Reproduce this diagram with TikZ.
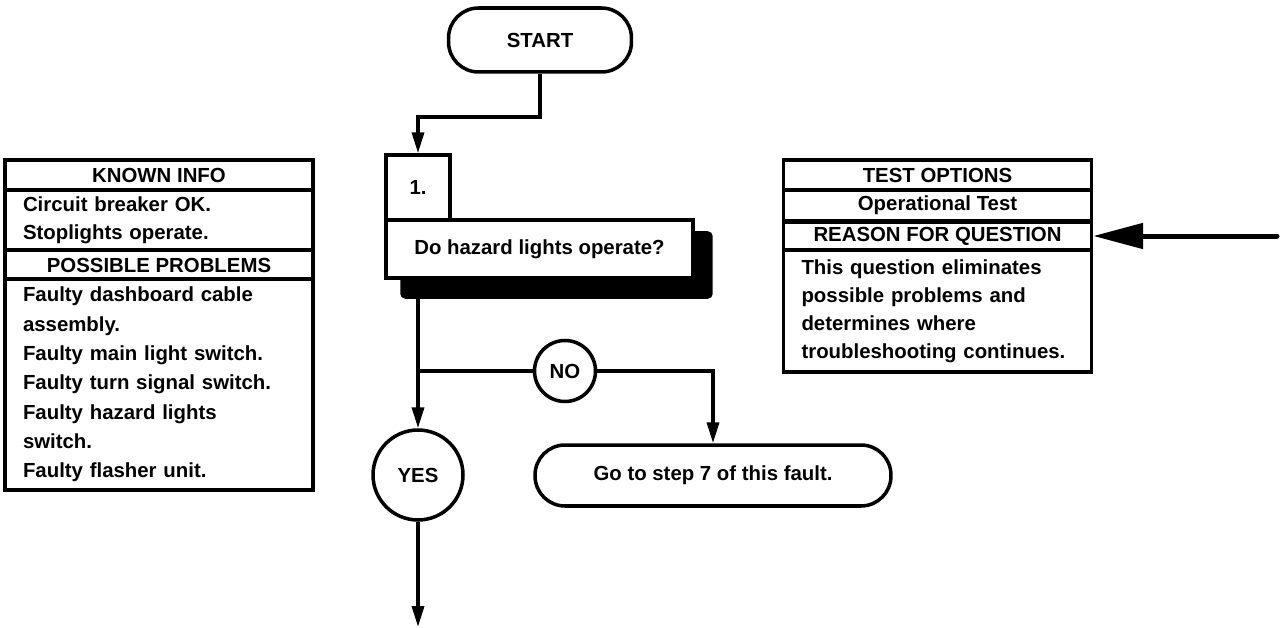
\documentclass[tikz,border=0pt]{standalone}
\usepackage{fontspec}
\setmainfont{Liberation Sans}
\usetikzlibrary{arrows.meta,positioning}

\begin{document}
\begin{tikzpicture}[
    x=0.02cm, y=-0.02cm,
    line width=2pt,
    txt/.style={font=\fontsize{11.6}{16}\selectfont\bfseries},
    pill/.style={txt, draw, rounded corners=0.6cm, inner sep=0pt},
    circ/.style={txt, draw, circle, inner sep=0pt},
    head/.style={txt, draw, minimum width=6.16cm, inner sep=0pt, align=center},
    body/.style={draw, align=left, inner xsep=0.36cm, inner ysep=0pt, text width=5.44cm, font=\fontsize{11.6}{16}\selectfont\bfseries},
    arr/.style={-{Triangle[length=0.42cm, width=0.24cm]}},
    bigarr/.style={-{Triangle[length=1cm, width=0.5cm]}, line width=0.1cm, line cap=round}
]
\useasboundingbox (0,0) rectangle (1287,628);

% flow
\node[pill, minimum width=3.66cm, minimum height=1.28cm] (start) at (540,40) {START};
\node[draw, fill=black, rounded corners=2pt, minimum width=6.18cm, minimum height=1.28cm] (qshadow) at (556.5,265) {};
\node[draw, fill=white, txt, minimum width=6.14cm, minimum height=1.16cm, inner sep=0pt] (quest) at (539.5,249) {Do hazard lights operate?};
\node[draw, fill=white, txt, minimum width=1.28cm, minimum height=1.3cm, inner sep=0pt] (num) at (418,187.5) {1.};
\node[circ, minimum size=1.22cm] (no) at (565,371) {NO};
\node[circ, minimum size=1.8cm] (yes) at (418,475) {YES};
\node[pill, minimum width=7.12cm, minimum height=1.22cm] (goto) at (713,475.5) {Go to step 7 of this fault.};
\coordinate (split) at (418,371);
\coordinate (yesend) at (418,627);

% known info panel
\node[head, minimum height=0.6cm] (known) at (159,175) {KNOWN INFO};
\node[body, minimum height=1.2cm] (knowntxt) at (159,220) {Circuit breaker OK.\\Stoplights operate.};
\node[head, minimum height=0.58cm] (probs) at (159,265) {POSSIBLE PROBLEMS};
\node[body, minimum height=4.22cm, font=\fontsize{11.6}{16.7}\selectfont\bfseries] (probstxt) at (159,384.5) {Faulty dashboard cable\\assembly.\\Faulty main light switch.\\Faulty turn signal switch.\\Faulty hazard lights\\switch.\\Faulty flasher unit.};

% test options panel
\node[head, minimum height=0.6cm] (testopt) at (937.5,175) {TEST OPTIONS};
\node[head, minimum height=0.6cm] (optest) at (937.5,205.5) {Operational Test};
\node[head, minimum height=0.56cm] (reason) at (937.5,236) {REASON FOR QUESTION};
\node[body, minimum height=2.44cm] (reasontxt) at (937.5,311) {This question eliminates\\possible problems and\\determines where\\troubleshooting continues.};
\coordinate (tail) at (1277,236);

\draw[arr] (start.south) -- ++(0,43) -| (num.north);
\draw (num |- qshadow.south) -- (split) -- (no.west);
\draw[arr] (split) -- (yes.north);
\draw[arr] (no.east) -| (goto.north);
\draw[arr] (yes.south) -- (yesend);
\draw[bigarr] (tail) -- (reason.east);
\end{tikzpicture}
\end{document}
